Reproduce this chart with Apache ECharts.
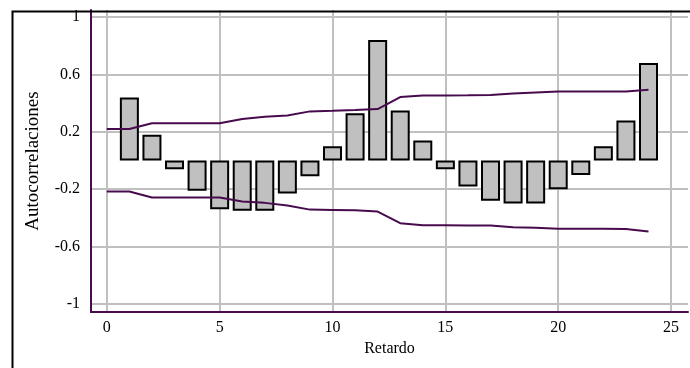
<!DOCTYPE html>
<html>
<head>
<meta charset="utf-8">
<script src="https://cdn.jsdelivr.net/npm/echarts@6/dist/echarts.min.js"></script>
<style>
  html, body { margin: 0; padding: 0; background: #fff; }
  #chart { width: 690px; height: 368px; }
</style>
</head>
<body>
<div id="chart"></div>
<script>
// Sample autocorrelation function with its confidence band
const lags = [1, 2, 3, 4, 5, 6, 7, 8, 9, 10, 11, 12, 13, 14, 15, 16, 17, 18, 19, 20, 21, 22, 23, 24];
const acf = [0.44, 0.18, -0.06, -0.21, -0.34, -0.35, -0.35, -0.23, -0.11, 0.10, 0.33, 0.84,
             0.35, 0.14, -0.06, -0.18, -0.28, -0.30, -0.30, -0.20, -0.10, 0.10, 0.28, 0.68];

const bandLags = [0, 1, 2, 3, 4, 5, 6, 7, 8, 9, 10, 11, 12, 13, 14, 15, 16, 17, 18, 19, 20, 21, 22, 23, 24];
const bandUpper = [0.22, 0.22, 0.26, 0.26, 0.26, 0.26, 0.29, 0.305, 0.315, 0.343, 0.347, 0.352, 0.359,
                   0.443, 0.454, 0.454, 0.455, 0.457, 0.468, 0.475, 0.482, 0.482, 0.482, 0.482, 0.494];
const bandLower = [-0.216, -0.216, -0.258, -0.258, -0.258, -0.258, -0.286, -0.295, -0.314, -0.342, -0.344, -0.347, -0.356,
                   -0.437, -0.451, -0.451, -0.452, -0.453, -0.465, -0.468, -0.476, -0.476, -0.476, -0.478, -0.495];

const xTicks = [0, 5, 10, 15, 20, 25];
const yTicks = [-1, -0.6, -0.2, 0.2, 0.6, 1];

const axisColor = '#470a4d';
const gridColor = '#c0c0c0';
const font = 'Liberation Serif, Times New Roman, serif';

const chart = echarts.init(document.getElementById('chart'), null, { renderer: 'canvas' });

chart.setOption({
  animation: false,
  backgroundColor: '#ffffff',
  grid: { left: 91, top: 10, right: 2, bottom: 56, containLabel: false },
  graphic: [{
    // outer frame, open to the right and bottom edges of the page
    type: 'rect',
    left: 10, top: 9,
    shape: { x: 0, y: 0, width: 700, height: 400 },
    style: { fill: 'none', stroke: '#000', lineWidth: 2 },
    z: 100, silent: true
  }],
  xAxis: {
    type: 'value',
    min: -0.7, max: 25.75,
    name: 'Retardo',
    nameLocation: 'middle',
    nameGap: 27,
    nameTextStyle: { fontFamily: font, fontSize: 16, color: '#000' },
    axisLine: { show: true, onZero: false, lineStyle: { color: axisColor, width: 2 } },
    axisTick: { show: false, customValues: xTicks },
    axisLabel: { customValues: xTicks, fontFamily: font, fontSize: 16, color: '#000', margin: 8 },
    splitLine: { show: true, lineStyle: { color: gridColor, width: 2 } }
  },
  yAxis: {
    type: 'value',
    min: -1.056, max: 1.05,
    name: 'Autocorrelaciones',
    nameLocation: 'middle',
    nameGap: 48,
    nameTextStyle: { fontFamily: font, fontSize: 19, color: '#000' },
    axisLine: { show: true, onZero: false, lineStyle: { color: axisColor, width: 2 } },
    axisTick: { show: false, customValues: yTicks },
    axisLabel: { customValues: yTicks, fontFamily: font, fontSize: 16, color: '#000', margin: 11 },
    splitLine: { show: true, lineStyle: { color: gridColor, width: 2 } }
  },
  series: [
    {
      type: 'bar',
      data: lags.map((l, i) => [l, acf[i]]),
      barWidth: 19,
      itemStyle: { color: '#c0c0c0', borderColor: '#000', borderWidth: 2 },
      z: 2
    },
    {
      type: 'line',
      data: bandLags.map((l, i) => [l, bandUpper[i]]),
      symbol: 'none',
      lineStyle: { color: axisColor, width: 2 },
      z: 3
    },
    {
      type: 'line',
      data: bandLags.map((l, i) => [l, bandLower[i]]),
      symbol: 'none',
      lineStyle: { color: axisColor, width: 2 },
      z: 3
    }
  ]
});
</script>
</body>
</html>
